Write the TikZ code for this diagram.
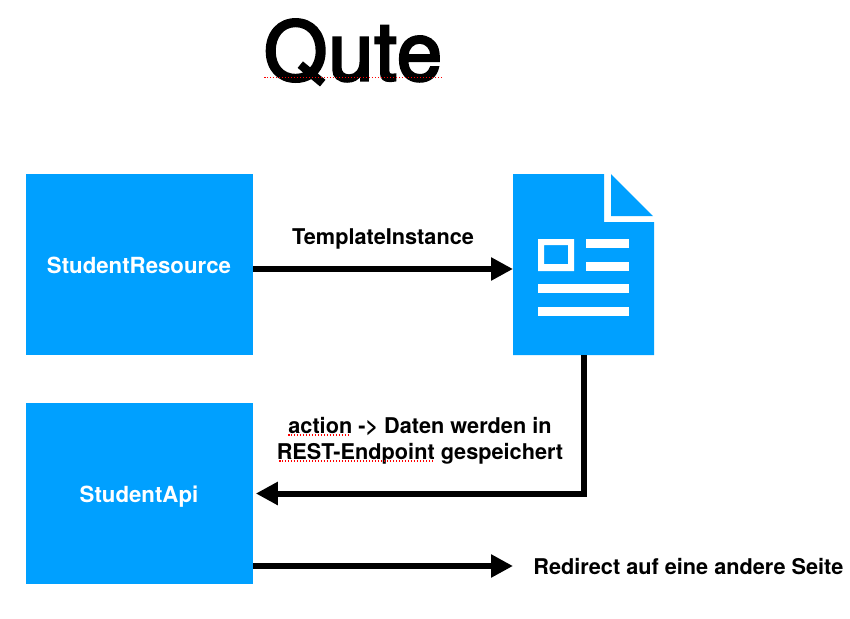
\documentclass[tikz,border=0pt]{standalone}
\usepackage{fontspec}
\setmainfont{TeX Gyre Heros}
\newfontfamily\titlefont[FakeBold=3,LetterSpace=1]{TeX Gyre Heros}
\usetikzlibrary{arrows.meta,positioning,calc}
\definecolor{quteblue}{RGB}{0,160,255}
\tikzset{
  box/.style={fill=quteblue, minimum width=4.54cm, minimum height=3.62cm, inner sep=0pt},
  boxtext/.style={text=white, font=\fontsize{12.65}{15}\selectfont\bfseries},
  label/.style={font=\fontsize{12.35}{14.8}\selectfont\bfseries, align=center, inner sep=0pt},
  flow/.style={draw, line width=0.12cm, -{Triangle[length=0.44cm,width=0.44cm]}},
  spell/.style={draw=red, line width=0.03cm, dash pattern=on 0.03cm off 0.03cm},
  hole/.style={fill=white}
}

\begin{document}
\begin{tikzpicture}[x=0.02cm, y=-0.02cm]
        \useasboundingbox (0,0) rectangle (850,619);
        %nodes
        \node[inner sep=0pt, font=\titlefont\fontsize{46.5}{50}\selectfont] (title) at (353,52) {Qute};
        \node[box] (resource) at (139.5,264.5) {};
        \node[box] (api) at (139.5,493.5) {};
        \node[boxtext] (resourcetext) at (139,265) {StudentResource};
        \node[boxtext] (apitext) at (139,497) {StudentApi};
        \node[inner sep=0pt, minimum width=2.82cm, minimum height=3.62cm] (doc) at (583.5,264.5) {};
        \coordinate (docin) at (513,269);
        \coordinate (redirect) at (513,566);
        \node[label] (instance) at (383,239) {TemplateInstance};
        \node[label] (action) at (420,441) {action -> Daten werden in\\REST-Endpoint gespeichert};
        \node[label, anchor=west] (target) at (533,567) {Redirect auf eine andere Seite};
        %document icon
        \fill[quteblue] (513,174) -- (604,174) -- (604,222) -- (654,222) -- (654,355) -- (513,355) -- cycle;
        \fill[quteblue] (611,174) -- (653,216) -- (611,216) -- cycle;
        \fill[hole, even odd rule] (538,239) rectangle (574,271) (544,245) rectangle (568,264);
        \fill[hole] (586,239) rectangle (629,248);
        \fill[hole] (586,262) rectangle (629,271);
        \fill[hole] (538,284) rectangle (629,293);
        \fill[hole] (538,307) rectangle (629,316);
        %edges
        \path [flow] (resource.east |- docin) -- (docin);
        \path [flow, shorten >=0.05cm] (doc.south) |- (api.east);
        \path [flow] (api.east |- redirect) -- (redirect);
        %spelling marks
        \path [spell] (264,77.5) -- (441,77.5);
        \path [spell] (288,435) -- (350,435);
        \path [spell] (279,461) -- (433,461);
      \end{tikzpicture}
\end{document}
